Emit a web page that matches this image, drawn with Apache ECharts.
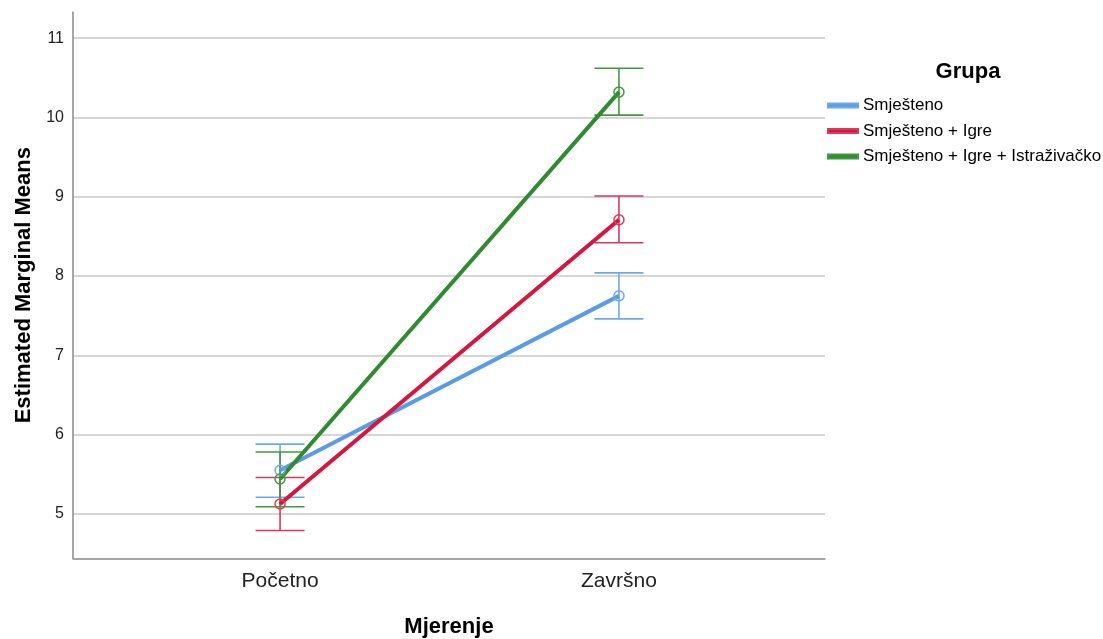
<!DOCTYPE html>
<html>
<head>
<meta charset="utf-8">
<script src="https://cdn.jsdelivr.net/npm/echarts@6/dist/echarts.min.js"></script>
<style>
html,body{margin:0;padding:0;background:#fff;}
#chart{width:1103px;height:639px;}
</style>
</head>
<body>
<div id="chart"></div>
<script>
// ---- data ----
var categories = ['Početno', 'Završno'];
var categoryPos = [1, 2];
var groupNames = ['Smješteno', 'Smješteno + Igre', 'Smješteno + Igre + Istraživačko'];
var meansSmjesteno = [5.55, 7.75];
var meansIgre = [5.125, 8.71];
var meansIstrazivacko = [5.44, 10.32];
var lowSmjesteno = [5.21, 7.46];
var highSmjesteno = [5.88, 8.04];
var lowIgre = [4.79, 8.42];
var highIgre = [5.46, 9.01];
var lowIstrazivacko = [5.09, 10.03];
var highIstrazivacko = [5.78, 10.62];
var yTicks = [5, 6, 7, 8, 9, 10, 11];

var lineColors = ['#5a9be6', '#d5163f', '#2e8b2e'];
var barColors = ['#6fa8ea', '#d93a5c', '#409940'];
var means = [meansSmjesteno, meansIgre, meansIstrazivacko];
var lows = [lowSmjesteno, lowIgre, lowIstrazivacko];
var highs = [highSmjesteno, highIgre, highIstrazivacko];

var FONT = "'Liberation Sans', Arial, sans-serif";
var series = [];

groupNames.forEach(function (name, gi) {
  var errData = categoryPos.map(function (x, ci) {
    return [x, lows[gi][ci], highs[gi][ci]];
  });
  series.push({
    type: 'custom',
    name: name + ' CI',
    z: 2,
    silent: true,
    data: errData,
    renderItem: function (params, api) {
      var x = api.value(0);
      var lo = api.coord([x, api.value(1)]);
      var hi = api.coord([x, api.value(2)]);
      var hw = 24.5;
      var st = { stroke: barColors[gi], lineWidth: 1.6 };
      return {
        type: 'group',
        children: [
          { type: 'line', shape: { x1: lo[0], y1: lo[1], x2: hi[0], y2: hi[1] }, style: st },
          { type: 'line', shape: { x1: lo[0] - hw, y1: lo[1], x2: lo[0] + hw, y2: lo[1] }, style: st },
          { type: 'line', shape: { x1: hi[0] - hw, y1: hi[1], x2: hi[0] + hw, y2: hi[1] }, style: st }
        ]
      };
    }
  });
});

groupNames.forEach(function (name, gi) {
  series.push({
    type: 'line',
    name: name,
    z: 3,
    data: categoryPos.map(function (x, ci) { return [x, means[gi][ci]]; }),
    lineStyle: { color: lineColors[gi], width: 4 },
    itemStyle: { color: 'rgba(255,255,255,0)', borderColor: barColors[gi], borderWidth: 1.5 },
    symbol: 'circle',
    symbolSize: 10,
    showSymbol: true,
    animation: false
  });
});

var chart = echarts.init(document.getElementById('chart'), null, { renderer: 'canvas' });
chart.setOption({
  animation: false,
  backgroundColor: '#ffffff',
  grid: { left: 73, right: 1103 - 825, top: 12, bottom: 639 - 558.3, containLabel: false, outerBoundsMode: 'none' },
  title: {
    text: 'Grupa',
    left: 968,
    top: 61,
    padding: 0,
    textAlign: 'center',
    textStyle: { fontFamily: FONT, fontSize: 22, fontWeight: 'bold', color: '#000' }
  },
  legend: {
    orient: 'vertical',
    left: 827,
    top: 96,
    padding: 0,
    itemWidth: 30,
    itemHeight: 4,
    itemGap: 6.5,
    icon: 'rect',
    data: groupNames.map(function (n, i) { return { name: n, itemStyle: { color: lineColors[i] } }; }),
    textStyle: { fontFamily: FONT, fontSize: 17, color: '#000', padding: [0, 0, 0, 0], lineHeight: 19 },
    selectedMode: false
  },
  xAxis: {
    type: 'value',
    min: 0.389,
    max: 2.608,
    name: 'Mjerenje',
    nameLocation: 'middle',
    nameGap: 58,
    nameTextStyle: { fontFamily: FONT, fontSize: 22, fontWeight: 'bold', color: '#000' },
    axisLine: { show: true, lineStyle: { color: '#888888', width: 1.5 } },
    axisTick: { show: false },
    splitLine: { show: false },
    axisLabel: {
      customValues: categoryPos,
      formatter: function (v) {
        var i = categoryPos.indexOf(Math.round(v));
        return i >= 0 ? categories[i] : '';
      },
      fontFamily: FONT, fontSize: 21, color: '#222', margin: 12
    }
  },
  yAxis: {
    type: 'value',
    min: 4.44,
    max: 11.33,
    name: 'Estimated Marginal Means',
    nameLocation: 'middle',
    nameGap: 38,
    nameTextStyle: { fontFamily: FONT, fontSize: 22, fontWeight: 'bold', color: '#000' },
    axisLine: { show: true, lineStyle: { color: '#888888', width: 1.5 } },
    axisTick: { show: false },
    axisLabel: {
      customValues: yTicks,
      fontFamily: FONT, fontSize: 16, color: '#222', margin: 9
    },
    splitLine: { show: true, showMinLine: false, showMaxLine: false, lineStyle: { color: '#c8c8c8', width: 1.5 } }
  },
  series: series
});
</script>
</body>
</html>
